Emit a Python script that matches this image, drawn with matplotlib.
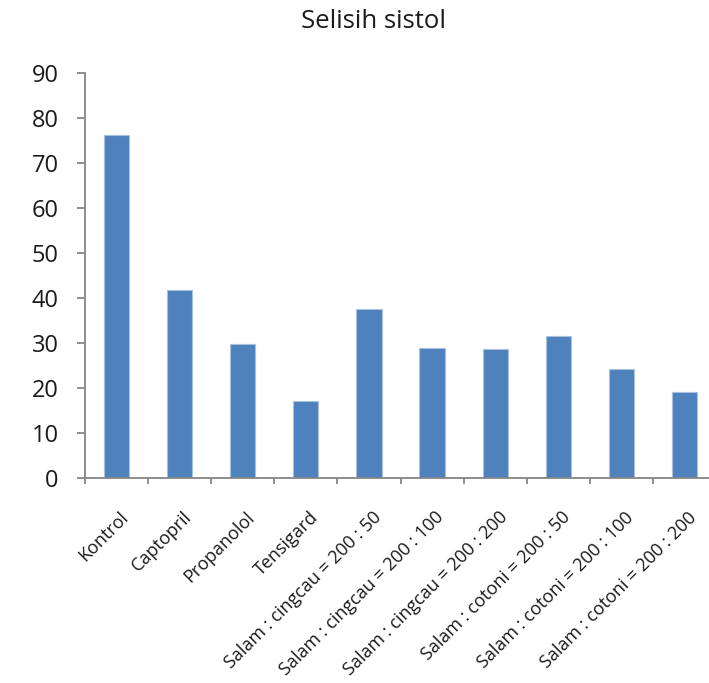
import matplotlib
matplotlib.use("Agg")
import matplotlib.pyplot as plt
import matplotlib.transforms as mtransforms
import numpy as np
from matplotlib.ticker import FixedLocator, MultipleLocator

plt.rcParams['font.family'] = ['Open Sans', 'DejaVu Sans']

categories = [
    "Kontrol", "Captopril", "Propanolol", "Tensigard",
    "Salam : cingcau = 200 : 50", "Salam : cingcau = 200 : 100",
    "Salam : cingcau = 200 : 200", "Salam : cotoni = 200 : 50",
    "Salam : cotoni = 200 : 100", "Salam : cotoni = 200 : 200",
]
selisih_sistol = [76.3, 41.7, 29.7, 17.0, 37.6, 28.9, 28.6, 31.6, 24.3, 19.0]
title = "Selisih sistol"

W, H = 709, 683
fig = plt.figure(figsize=(W / 100, H / 100), dpi=100)
ax_left, ax_right = 85, 716
ax_top, ax_bottom = 73.3, 477.7
ax = fig.add_axes([ax_left / W, 1 - ax_bottom / H,
                   (ax_right - ax_left) / W, (ax_bottom - ax_top) / H])

x = np.arange(len(categories))
ax.bar(x, selisih_sistol, width=0.4, color="#4F81BD",
       edgecolor="#a9c1e0", linewidth=0.8, zorder=2)

ax.set_xlim(-0.5, len(categories) - 0.5)
ax.set_ylim(0, 90)

axis_color = "#868686"
for side in ("top", "right"):
    ax.spines[side].set_visible(False)
for side in ("left", "bottom"):
    ax.spines[side].set_color(axis_color)
    ax.spines[side].set_linewidth(1.3)
    ax.spines[side].set_zorder(3)

ax.yaxis.set_major_locator(MultipleLocator(10))
ax.tick_params(axis="y", direction="out", length=6, width=1.3,
               color=axis_color, pad=13, labelsize=17, labelcolor="#1a1a1a")

ax.set_xticks(x)
ax.set_xticklabels(categories, rotation=45, ha="right",
                   rotation_mode="anchor", fontsize=13, color="#1a1a1a")
ax.tick_params(axis="x", which="major", length=0, pad=22)
shift = mtransforms.ScaledTranslation(3 / 100, 0, fig.dpi_scale_trans)
for lbl in ax.get_xticklabels():
    lbl.set_transform(lbl.get_transform() + shift)
ax.xaxis.set_minor_locator(FixedLocator(np.arange(len(categories) + 1) - 0.5))
ax.tick_params(axis="x", which="minor", direction="out", length=4,
               width=1.3, color=axis_color)

fig.text(374 / W, 1 - 21 / H, title, ha="center", va="center",
         fontsize=18.5, color="#1a1a1a")

fig.savefig("out.png", dpi=100)
